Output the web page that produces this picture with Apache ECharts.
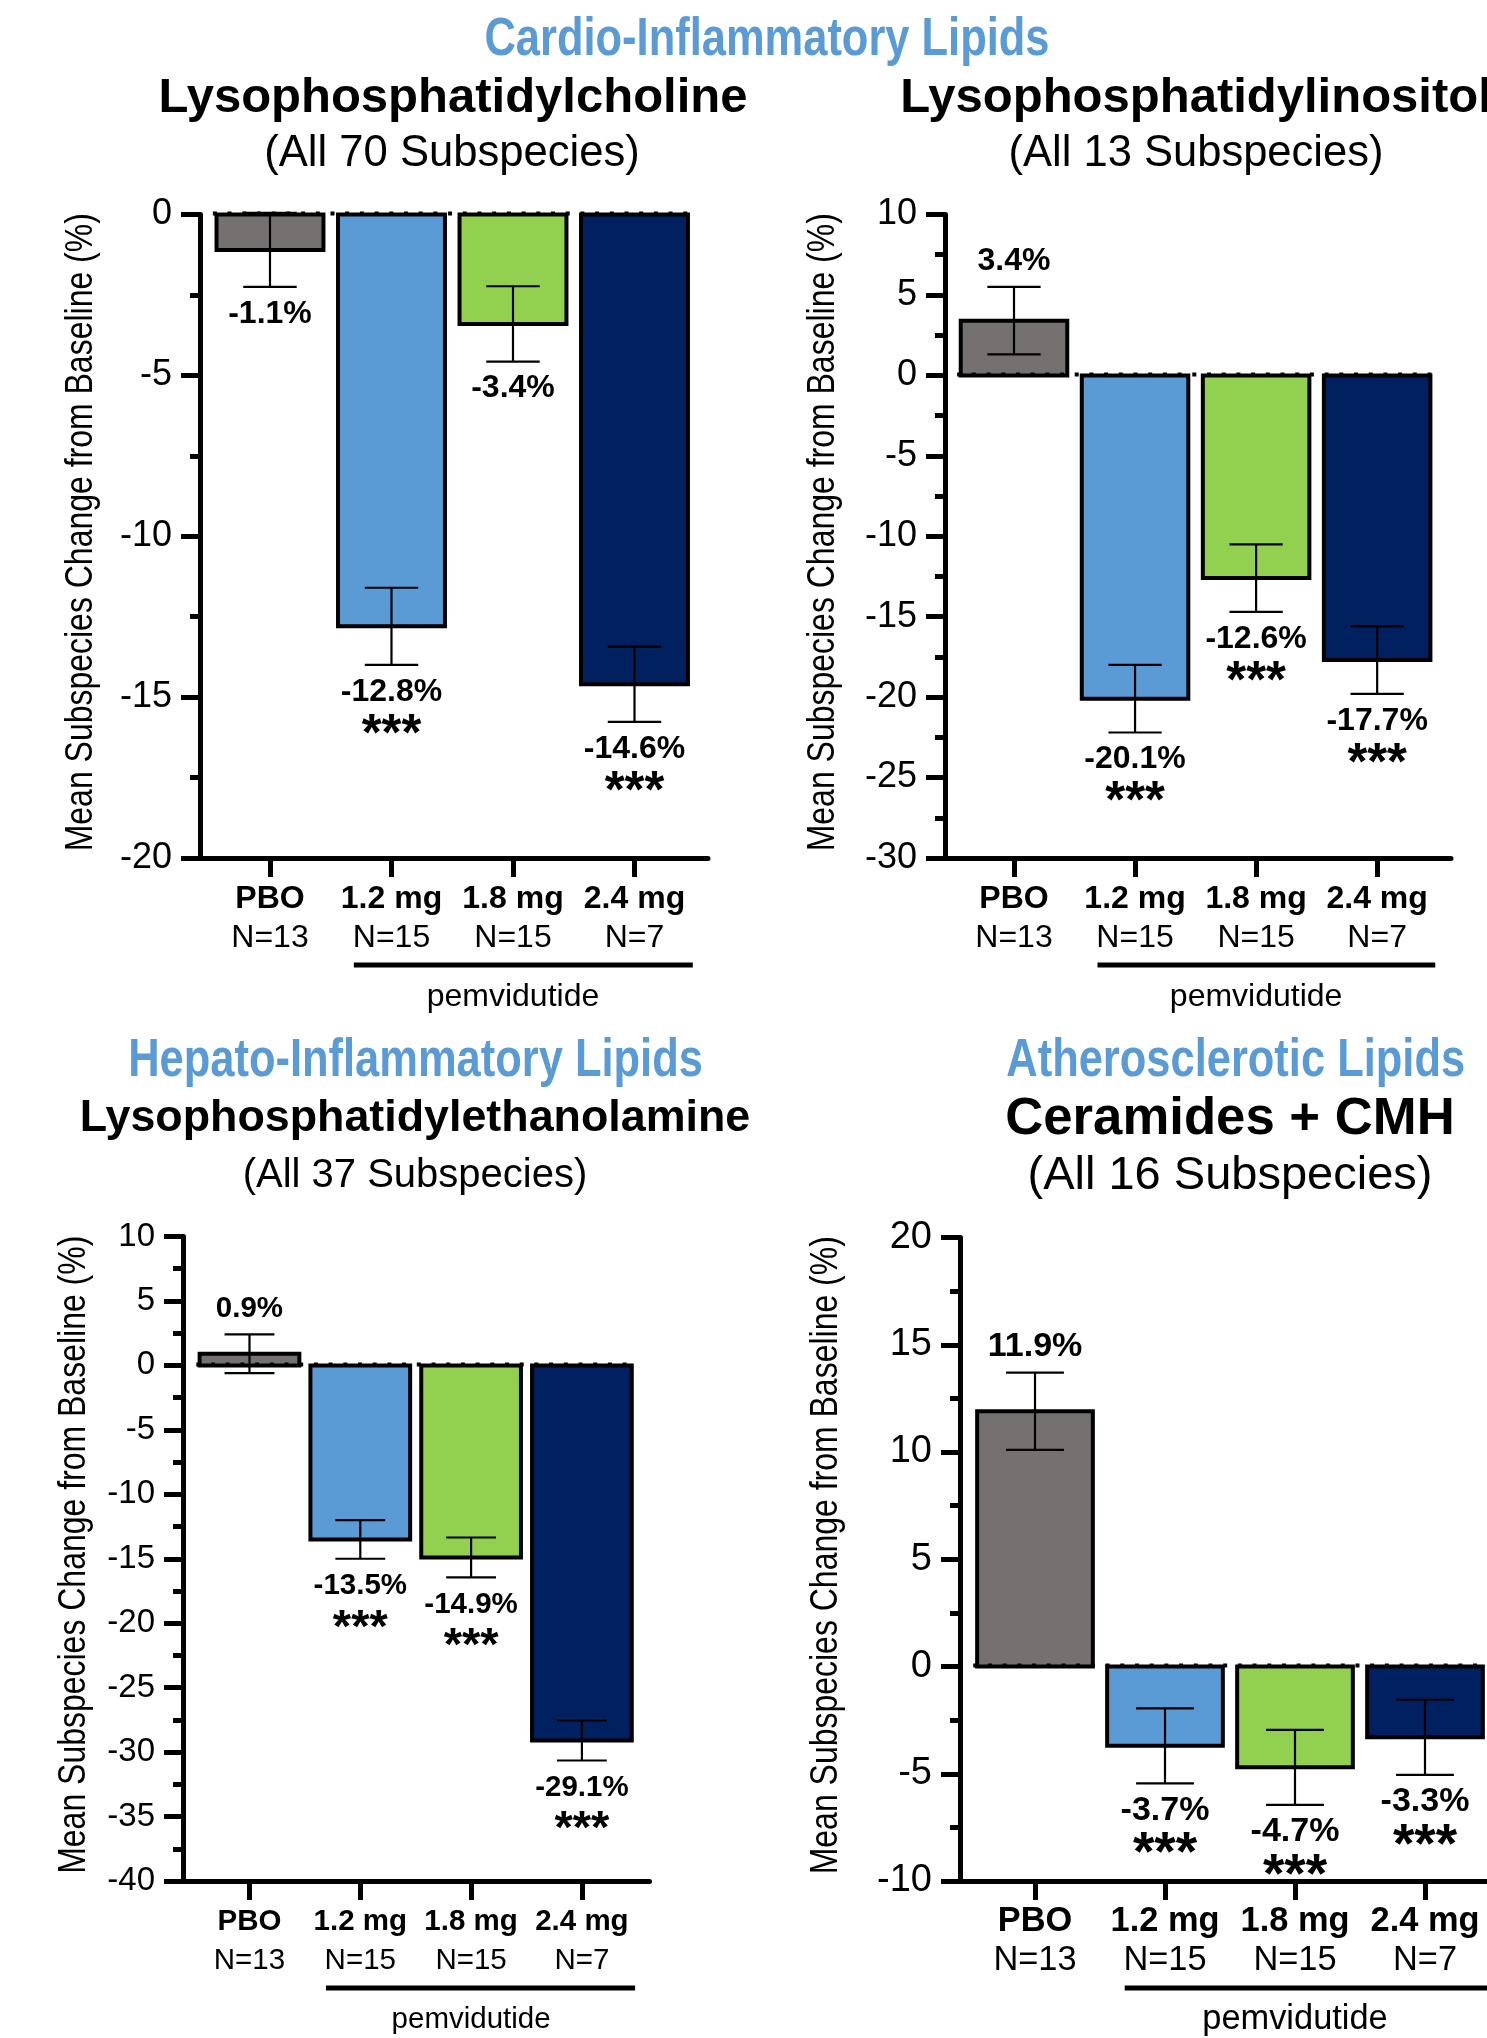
<!DOCTYPE html>
<html><head><meta charset="utf-8">
<script src="https://cdn.jsdelivr.net/npm/echarts@6/dist/echarts.min.js"></script>
<style>html,body{margin:0;padding:0;background:#fff}#chart{width:1487px;height:2038px}</style>
</head><body><div id="chart"></div>
<script>
// ---------- data ----------
const categories = ['PBO', '1.2 mg', '1.8 mg', '2.4 mg'];
const sampleSizes = ['N=13', 'N=15', 'N=15', 'N=7'];
const barColors = ['#767171', '#5B9BD5', '#92D050', '#002060'];
const groupName = 'pemvidutide';
const groupMembers = [1, 3];
const yAxisTitle = 'Mean Subspecies Change from Baseline (%)';

const sectionHeadings = ['Cardio-Inflammatory Lipids', 'Hepato-Inflammatory Lipids', 'Atherosclerotic Lipids'];
const panelTitles = ['Lysophosphatidylcholine', 'Lysophosphatidylinositol', 'Lysophosphatidylethanolamine', 'Ceramides + CMH'];
const panelSubtitles = ['(All 70 Subspecies)', '(All 13 Subspecies)', '(All 37 Subspecies)', '(All 16 Subspecies)'];

const lpcValues = [-1.1, -12.8, -3.4, -14.6];
const lpcErrors = [1.15, 1.2, 1.17, 1.17];
const lpcSig = ['', '***', '', '***'];
const lpcAxis = [-20, 0, 5];

const lpiValues = [3.4, -20.1, -12.6, -17.7];
const lpiErrors = [2.1, 2.1, 2.1, 2.1];
const lpiSig = ['', '***', '***', '***'];
const lpiAxis = [-30, 10, 5];

const lpeValues = [0.9, -13.5, -14.9, -29.1];
const lpeErrors = [1.5, 1.5, 1.55, 1.55];
const lpeSig = ['', '***', '***', '***'];
const lpeAxis = [-40, 10, 5];

const cerValues = [11.9, -3.7, -4.7, -3.3];
const cerErrors = [1.8, 1.75, 1.75, 1.75];
const cerSig = ['', '***', '***', '***'];
const cerAxis = [-10, 20, 5];

// ---------- layout ----------
const REG = '"Liberation Sans", Arial, Helvetica, sans-serif';
const NARROW_SCALE = 0.82;
const HEAD_BLUE = '#5B9BD5';

const panels = [
  {values: lpcValues, errors: lpcErrors, sig: lpcSig, axis: lpcAxis,
   left: 200, top: 214.5, width: 508, height: 643.5, xMin: -0.576, xMax: 3.605, barW: 0.88,
   nameX: 81, tickFs: 36, lblFs: 32, catFs: 32, starFs: 51},
  {values: lpiValues, errors: lpiErrors, sig: lpiSig, axis: lpiAxis,
   left: 945, top: 214.5, width: 506, height: 643.5, xMin: -0.57, xMax: 3.61, barW: 0.88,
   nameX: 823, tickFs: 36, lblFs: 32, catFs: 32, starFs: 51},
  {values: lpeValues, errors: lpeErrors, sig: lpeSig, axis: lpeAxis,
   left: 183, top: 1236.5, width: 466.5, height: 644.5, xMin: -0.6, xMax: 3.61, barW: 0.9,
   nameX: 74, tickFs: 33, lblFs: 29.5, catFs: 29.5, starFs: 47},
  {values: cerValues, errors: cerErrors, sig: cerSig, axis: cerAxis,
   left: 960, top: 1237.5, width: 527, height: 643.5, xMin: -0.577, xMax: 3.477, barW: 0.89,
   nameX: 826, tickFs: 38, lblFs: 34, catFs: 34.4, starFs: 55}
];

const textLayout = [
  {text: sectionHeadings[0], x: 767, y: 40, fs: 53, w: 'bold', sx: NARROW_SCALE, c: HEAD_BLUE},
  {text: panelTitles[0], x: 453, y: 98, fs: 49, w: 'bold', sx: 1, c: '#000'},
  {text: panelSubtitles[0], x: 452, y: 154, fs: 43.6, w: 'normal', sx: 1, c: '#000'},
  {text: panelTitles[1], x: 1196, y: 98, fs: 49, w: 'bold', sx: 1, c: '#000'},
  {text: panelSubtitles[1], x: 1196, y: 154, fs: 43.5, w: 'normal', sx: 1, c: '#000'},
  {text: sectionHeadings[1], x: 415.5, y: 1061, fs: 53, w: 'bold', sx: NARROW_SCALE, c: HEAD_BLUE},
  {text: panelTitles[2], x: 415, y: 1119, fs: 44.8, w: 'bold', sx: 1, c: '#000'},
  {text: panelSubtitles[2], x: 415, y: 1176, fs: 40, w: 'normal', sx: 1, c: '#000'},
  {text: sectionHeadings[2], x: 1235.7, y: 1061, fs: 53, w: 'bold', sx: NARROW_SCALE, c: HEAD_BLUE},
  {text: panelTitles[3], x: 1230, y: 1119, fs: 52.7, w: 'bold', sx: 1, c: '#000'},
  {text: panelSubtitles[3], x: 1230, y: 1176, fs: 47, w: 'normal', sx: 1, c: '#000'}
];

function txt(x, y, text, fs, weight, color, extra) {
  const el = {type: 'text', x: x, y: y, silent: true,
    style: {text: text, fontSize: fs, fontWeight: weight, fontFamily: REG, fill: color,
      align: 'center', verticalAlign: 'middle', textAlign: 'center', textVerticalAlign: 'middle'}};
  if (extra) Object.assign(el, extra);
  return el;
}

const grids = [], xAxes = [], yAxes = [], series = [];
const idx = categories.map((c, i) => i);
const graphicEls = textLayout.map(t => txt(t.x, t.y, t.text, t.fs, t.w, t.c, {scaleX: t.sx}));

panels.forEach((P, k) => {
  grids.push({left: P.left, top: P.top, width: P.width, height: P.height, containLabel: false});
  xAxes.push({
    type: 'value', gridIndex: k, min: P.xMin, max: P.xMax, position: 'bottom',
    splitLine: {show: false},
    axisLine: {show: true, onZero: false, lineStyle: {color: '#000', width: 5}},
    axisTick: {show: true, customValues: idx, length: 19, lineStyle: {color: '#000', width: 5}},
    axisLabel: {show: true, customValues: idx, margin: 21.5, color: '#000',
      formatter: function (v) { const i = Math.round(v); return '{b|' + categories[i] + '}\n{n|' + sampleSizes[i] + '}'; },
      rich: {
        b: {fontSize: P.catFs, fontWeight: 'bold', fontFamily: REG, color: '#000', lineHeight: 39},
        n: {fontSize: P.catFs, fontWeight: 'normal', fontFamily: REG, color: '#000', lineHeight: 39}
      }}
  });
  yAxes.push({
    type: 'value', gridIndex: k, min: P.axis[0], max: P.axis[1], interval: P.axis[2],
    splitLine: {show: false}, minorSplitLine: {show: false},
    axisLine: {show: true, onZero: false, lineStyle: {color: '#000', width: 5}},
    axisTick: {show: true, length: 19, lineStyle: {color: '#000', width: 5}},
    minorTick: {show: true, splitNumber: 2, length: 10, lineStyle: {color: '#000', width: 5}},
    axisLabel: {color: '#000', fontSize: P.tickFs, fontFamily: REG, margin: 28}
  });
  // y-axis title (condensed by horizontal scaling, rotated to read upward)
  graphicEls.push(txt(P.nameX, P.top + P.height / 2 - 4, yAxisTitle, 39, 'normal', '#000',
    {rotation: Math.PI / 2, scaleX: NARROW_SCALE}));

  const barData = P.values.map((v, i) => [i, v, P.errors[i]]);
  const bw = P.barW;
  function barRect(api) {
    const i = api.value(0), v = api.value(1);
    const p1 = api.coord([i - bw / 2, v]);
    const p2 = api.coord([i + bw / 2, 0]);
    return {x: Math.min(p1[0], p2[0]), y: Math.min(p1[1], p2[1]),
      width: Math.abs(p2[0] - p1[0]), height: Math.abs(p2[1] - p1[1])};
  }

  // bar fills
  series.push({
    type: 'custom', xAxisIndex: k, yAxisIndex: k, z: 2, clip: false, data: barData,
    renderItem: function (params, api) {
      return {type: 'rect', shape: barRect(api), style: {fill: barColors[api.value(0)], lineWidth: 0}};
    }
  });

  // error bars
  series.push({
    type: 'custom', xAxisIndex: k, yAxisIndex: k, z: 3, clip: false, data: barData,
    renderItem: function (params, api) {
      const i = api.value(0), v = api.value(1), e = api.value(2);
      const hi = api.coord([i, v + e]), lo = api.coord([i, v - e]);
      const capHalf = api.size([bw / 4, 0])[0];
      const x = hi[0];
      const st = {stroke: '#000', lineWidth: 2.2};
      return {type: 'group', children: [
        {type: 'line', shape: {x1: x, y1: hi[1], x2: x, y2: lo[1]}, style: st},
        {type: 'line', shape: {x1: x - capHalf, y1: hi[1], x2: x + capHalf, y2: hi[1]}, style: st},
        {type: 'line', shape: {x1: x - capHalf, y1: lo[1], x2: x + capHalf, y2: lo[1]}, style: st}
      ]};
    }
  });

  // bar outlines
  series.push({
    type: 'custom', xAxisIndex: k, yAxisIndex: k, z: 4, clip: false, data: barData,
    renderItem: function (params, api) {
      return {type: 'rect', shape: barRect(api), style: {fill: 'none', stroke: '#000', lineWidth: 4}};
    }
  });

  // dotted baseline at zero
  series.push({
    type: 'custom', xAxisIndex: k, yAxisIndex: k, z: 5, clip: false, data: [[0]],
    renderItem: function (params, api) {
      const base = api.value(0);
      const a = api.coord([-(bw / 2 + 0.03), base]);
      const b = api.coord([categories.length - 1 + bw / 2 + 0.05, base]);
      return {type: 'line', shape: {x1: a[0], y1: a[1] - 1, x2: b[0], y2: b[1] - 1},
        style: {stroke: '#000', lineWidth: 4, lineDash: [4, 10.7]}};
    }
  });

  // value labels + significance
  series.push({
    type: 'custom', xAxisIndex: k, yAxisIndex: k, z: 6, clip: false, data: barData,
    renderItem: function (params, api) {
      const i = api.value(0), v = api.value(1), e = api.value(2);
      const hi = api.coord([i, v + e]), lo = api.coord([i, v - e]);
      const x = hi[0];
      const label = v.toFixed(1) + '%';
      const ch = [];
      if (v >= 0) {
        ch.push(txt(x, hi[1] - 26, label, P.lblFs, 'bold', '#000'));
      } else {
        ch.push(txt(x, lo[1] + 27, label, P.lblFs, 'bold', '#000'));
        if (P.sig[i]) ch.push(txt(x, lo[1] + 59 + 0.23 * P.starFs, P.sig[i], P.starFs, 'bold', '#000'));
      }
      return {type: 'group', children: ch};
    }
  });

  // group bracket
  series.push({
    type: 'custom', xAxisIndex: k, yAxisIndex: k, z: 6, clip: false, data: [groupMembers],
    renderItem: function (params, api) {
      const a = api.value(0), b = api.value(1);
      const yb = api.coord([0, P.axis[0]])[1];
      const xa = api.coord([a - 0.31, P.axis[0]])[0];
      const xb = api.coord([b + 0.48, P.axis[0]])[0];
      const xm = api.coord([(a + b) / 2, P.axis[0]])[0];
      return {type: 'group', children: [
        {type: 'line', shape: {x1: xa, y1: yb + 107, x2: xb, y2: yb + 107}, style: {stroke: '#000', lineWidth: 5}},
        txt(xm, yb + 139, groupName, P.catFs, 'normal', '#000')
      ]};
    }
  });
});

const chart = echarts.init(document.getElementById('chart'), null, {renderer: 'canvas'});
chart.setOption({
  animation: false,
  backgroundColor: '#fff',
  grid: grids, xAxis: xAxes, yAxis: yAxes, series: series,
  graphic: {elements: graphicEls}
});
</script></body></html>
